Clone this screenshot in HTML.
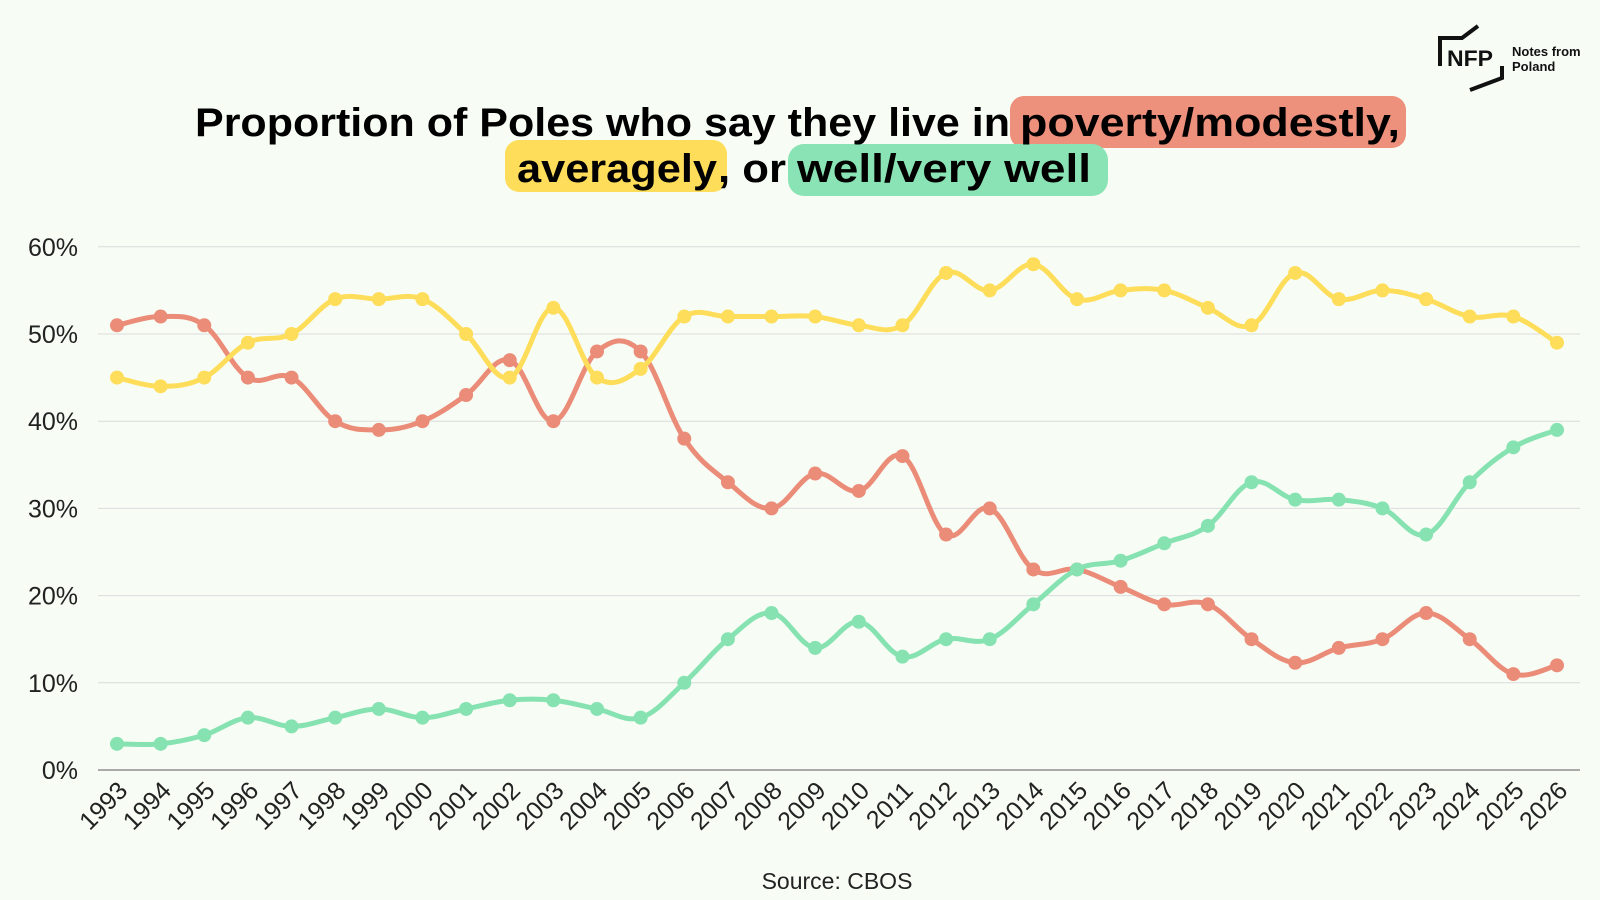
<!DOCTYPE html>
<html><head><meta charset="utf-8"><style>
html,body{margin:0;padding:0;background:#f7fdf5;}
svg{display:block;}
text{font-family:"Liberation Sans",sans-serif;}
</style></head><body>
<svg id="s" width="1600" height="900" viewBox="0 0 1600 900" xmlns="http://www.w3.org/2000/svg">
<rect width="1600" height="900" fill="#f7fdf5"/>
<g stroke="#111" stroke-width="4" fill="none">
<polyline points="1440,66 1440,38 1462,38 1478,26"/>
<polyline points="1502,66 1502,78 1486,84 1470,90"/>
</g>
<text x="1447" y="66" font-size="22" font-weight="bold" fill="#111" textLength="46" lengthAdjust="spacingAndGlyphs">NFP</text>
<text x="1512" y="56" font-size="13" font-weight="bold" fill="#111">Notes from</text>
<text x="1512" y="71" font-size="13" font-weight="bold" fill="#111">Poland</text>
<rect x="1010" y="96" width="396" height="52" rx="14" fill="#ed907c"/>
<rect x="505" y="140" width="222" height="52" rx="14" fill="#fedd5a"/>
<rect x="788" y="144" width="320" height="52" rx="16" fill="#8ae3b4"/>
<g font-weight="bold" font-size="40" fill="#000">
<text x="195" y="136" textLength="815" lengthAdjust="spacingAndGlyphs">Proportion of Poles who say they live in</text>
<text x="1020" y="136" textLength="380" lengthAdjust="spacingAndGlyphs">poverty/modestly,</text>
<text x="517" y="182" textLength="200" lengthAdjust="spacingAndGlyphs">averagely</text>
<text x="718" y="182" textLength="68" lengthAdjust="spacingAndGlyphs">, or</text>
<text x="797" y="182" textLength="294" lengthAdjust="spacingAndGlyphs">well/very well</text>
</g>
<g id="grid"></g>
<g id="series"></g>
<text x="837" y="889" font-size="23" fill="#222" text-anchor="middle">Source: CBOS</text>
</svg>
<script>
const ns="http://www.w3.org/2000/svg";
const X0=117,DX=(1557-117)/33,Y0=770,PY=87.2/10;
const red=[51,52,51,45,45,40,39,40,43,47,40,48,48,38,33,30,34,32,36,27,30,23,23,21,19,19,15,12.3,14,15,18,15,11,12];
const yel=[45,44,45,49,50,54,54,54,50,45,53,45,46,52,52,52,52,51,51,57,55,58,54,55,55,53,51,57,54,55,54,52,52,49];
const grn=[3,3,4,6,5,6,7,6,7,8,8,7,6,10,15,18,14,17,13,15,15,19,23,24,26,28,33,31,31,30,27,33,37,39];
const g=document.getElementById('grid'),se=document.getElementById('series');
function el(t,a,p,txt){const e=document.createElementNS(ns,t);for(const k in a)e.setAttribute(k,a[k]);if(txt!==undefined)e.textContent=txt;p.appendChild(e);return e;}
for(let i=0;i<=6;i++){const y=Y0-i*10*PY;
el('line',{x1:98,x2:1580,y1:y,y2:y,stroke:i?'#dcdcdc':'#aaa','stroke-width':i?1:2},g);
el('text',{x:78,y:y+9,'font-size':25,fill:'#222','text-anchor':'end'},g,(i*10)+'%');}
for(let i=0;i<34;i++){const x=X0+i*DX;
el('text',{x:0,y:0,'font-size':25,fill:'#222','text-anchor':'end',transform:`translate(${x+12},${Y0+22}) rotate(-45)`},g,String(1993+i));}
function draw(d,c){const P=d.map((v,i)=>[X0+i*DX,Y0-v*PY]);
let s=`M${P[0][0]},${P[0][1]}`;
for(let i=0;i<P.length-1;i++){const p0=P[i-1]||P[i],p1=P[i],p2=P[i+1],p3=P[i+2]||P[i+1];const t=0.18;
s+=` C${p1[0]+(p2[0]-p0[0])*t},${p1[1]+(p2[1]-p0[1])*t} ${p2[0]-(p3[0]-p1[0])*t},${p2[1]-(p3[1]-p1[1])*t} ${p2[0]},${p2[1]}`;}
el('path',{d:s,fill:'none',stroke:c,'stroke-width':5,'stroke-linejoin':'round'},se);
P.forEach(p=>el('circle',{cx:p[0],cy:p[1],r:7,fill:c},se));}
draw(red,'#ea8c78');draw(yel,'#fedd5a');draw(grn,'#87e2b2');
</script>
</body></html>
